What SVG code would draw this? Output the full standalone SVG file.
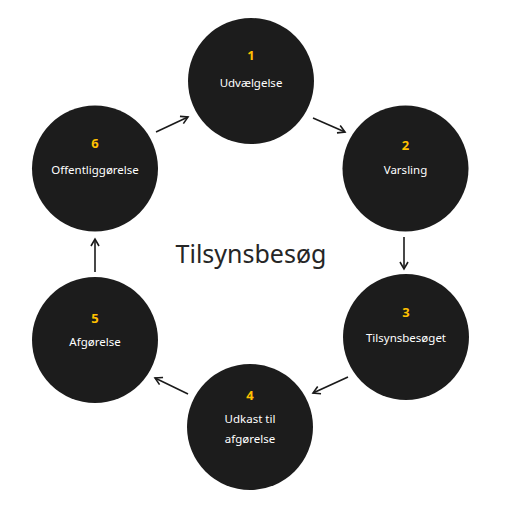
<svg xmlns="http://www.w3.org/2000/svg" width="505" height="512" viewBox="0 0 505 512">
<style>
.c{fill:#1c1c1c;}
.n{font-family:"Noto Sans","Open Sans",sans-serif;font-size:13px;font-weight:bold;fill:#ffc000;text-anchor:middle;}
.l{font-family:"Noto Sans","Open Sans",sans-serif;font-size:11.5px;fill:#ffffff;text-anchor:middle;}
.t{font-family:"Noto Sans","Open Sans",sans-serif;font-size:25px;fill:#262626;text-anchor:middle;}
.a{stroke:#1a1a1a;stroke-width:1.6;fill:none;marker-end:url(#ah);}
</style>
<defs>
<marker id="ah" markerWidth="10" markerHeight="10" refX="8" refY="5" orient="auto" markerUnits="userSpaceOnUse">
<polyline points="1,1 8,5 1,9" fill="none" stroke="#1a1a1a" stroke-width="1.6"/>
</marker>
</defs>
<rect width="505" height="512" fill="#ffffff"/>
<text class="t" x="251" y="263">Tilsynsbesøg</text>
<g id="connectors">
<line class="a" x1="156" y1="132" x2="188" y2="117"/>
<line class="a" x1="313" y1="118" x2="345" y2="132"/>
<line class="a" x1="404" y1="237" x2="404" y2="269"/>
<line class="a" x1="348" y1="377" x2="313" y2="393"/>
<line class="a" x1="188" y1="394" x2="155" y2="378"/>
<line class="a" x1="95" y1="272" x2="95" y2="239"/>
</g>
<g id="node1"><circle class="c" cx="251" cy="81" r="63"/><text class="n" x="251" y="60">1</text><text class="l" x="251" y="87">Udvælgelse</text></g>
<g id="node2"><circle class="c" cx="405.5" cy="168.5" r="63"/><text class="n" x="405.5" y="150">2</text><text class="l" x="405.5" y="174">Varsling</text></g>
<g id="node3"><circle class="c" cx="406" cy="337" r="63"/><text class="n" x="406" y="317">3</text><text class="l" x="406" y="342">Tilsynsbesøget</text></g>
<g id="node4"><circle class="c" cx="250" cy="427" r="63"/><text class="n" x="250" y="400">4</text><text class="l" x="250" y="423">Udkast til</text><text class="l" x="250" y="443">afgørelse</text></g>
<g id="node5"><circle class="c" cx="95" cy="340" r="63"/><text class="n" x="95" y="323">5</text><text class="l" x="95" y="346">Afgørelse</text></g>
<g id="node6"><circle class="c" cx="95" cy="168.5" r="63"/><text class="n" x="95" y="148">6</text><text class="l" x="95" y="174">Offentliggørelse</text></g>
</svg>
